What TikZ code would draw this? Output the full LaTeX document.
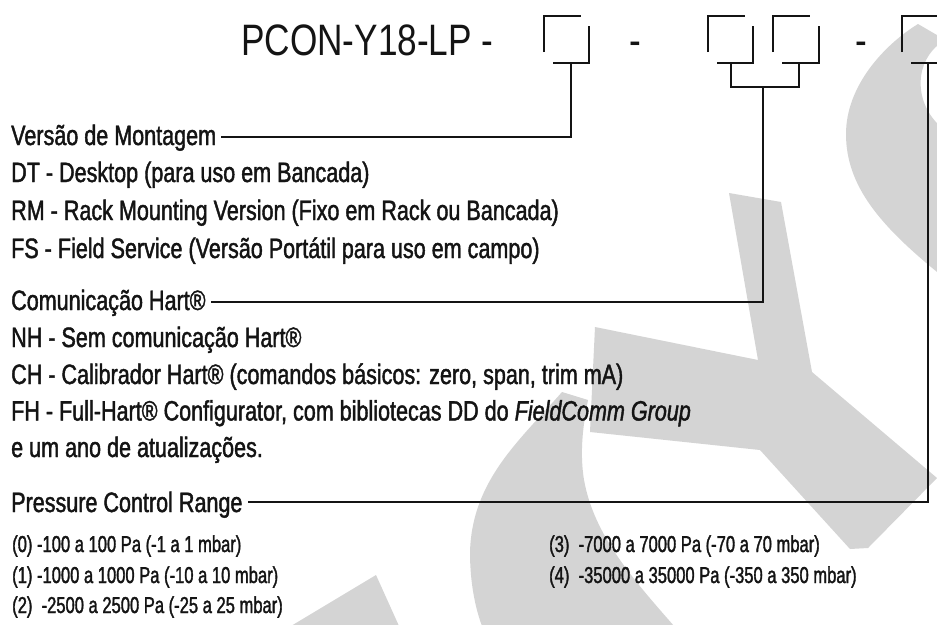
\documentclass[tikz,border=0pt]{standalone}
\usepackage{fontspec}
\setmainfont{Liberation Sans}
\newfontfamily\titlefont{Liberation Sans}[FakeStretch=0.8]
\newfontfamily\bodyfont{Liberation Sans}[FakeStretch=0.77,FakeBold=1.5]
\newfontfamily\rangefont{Liberation Sans}[FakeStretch=0.72,FakeBold=1.5]
\usetikzlibrary{calc}
\definecolor{wm}{RGB}{212,212,212}
\definecolor{ink}{RGB}{20,20,20}
\begin{document}
\begin{tikzpicture}[x=1pt,y=-1pt,
  body/.style={anchor=base west, inner sep=0pt, font=\bodyfont\fontsize{28}{32}\selectfont, text=ink},
  rangetxt/.style={anchor=base west, inner sep=0pt, font=\rangefont\fontsize{23}{27}\selectfont, text=ink},
  ttl/.style={anchor=base west, inner sep=0pt, font=\titlefont\fontsize{44}{50}\selectfont, text=ink},
  brk/.style={draw=ink, line width=2.8pt},
  conn/.style={draw=ink, line width=2.6pt},
  wmark/.style={fill=wm}]
\useasboundingbox (0,0) rectangle (937,624);
\clip (0,0) rectangle (937,624);
\fill[white] (0,0) rectangle (937,624);
% watermark shapes
\fill[wmark] (918,24) -- (942,38) -- (942,42) .. controls (915,60) and (912,102) .. (942,128)
  -- (942,276) .. controls (880,226) and (846,186) .. (846,134) .. controls (846,86) and (884,45) .. (918,24) -- cycle;
\fill[wmark] (729,193) -- (781,202) -- (812,372) -- (937,478) -- (868,548) -- (850,549)
  -- (760,450) -- (590,432) -- (595,327) -- (758,360) -- cycle;
\fill[wmark] (562,392) .. controls (520,440) and (472,480) .. (470,552) .. controls (470,585) and (476,610) .. (482,626)
  -- (674,626) .. controls (632,578) and (594,535) .. (584,480) .. controls (580,455) and (582,430) .. (588,400) -- cycle;
\fill[wmark] (376,575) -- (399,626) -- (291,626) -- cycle;
% title and dashes
\node[ttl] (title) at (241,55) {PCON-Y18-LP -};
\node[ttl] (d2) at (629,55) {-};
\node[ttl] (d3) at (855,55) {-};
% boxes
\draw[brk] (544,52) -- (544,16) -- (581,16);
\draw[brk] (553,63) -- (589,63) -- (589,26);
\draw[brk] (708,52) -- (708,16) -- (745,16);
\draw[brk] (717,63) -- (753,63) -- (753,26);
\draw[brk] (773,52) -- (773,16) -- (810,16);
\draw[brk] (782,63) -- (819,63) -- (819,26);
\draw[brk] (902,52) -- (902,16) -- (940,16);
\draw[brk] (911,63) -- (947,63) -- (947,26);
% texts
\node[body] (versao) at (11,145) {Versão de Montagem};
\node[body] (dt) at (11,182) {DT - Desktop (para uso em Bancada)};
\node[body] (rm) at (11,220) {RM - Rack Mounting Version (Fixo em Rack ou Bancada)};
\node[body] (fs) at (11,258) {FS - Field Service (Versão Portátil para uso em campo)};
\node[body] (comun) at (11,310) {Comunicação Hart®};
\node[body] (nh) at (11,347) {NH - Sem comunicação Hart®};
\node[body] (ch) at (11,384) {CH - Calibrador Hart® (comandos básicos: zero, span, trim mA)};
\node[body] (fh) at (11,420.5) {FH - Full-Hart® Configurator, com bibliotecas DD do \textit{FieldComm Group}};
\node[body] (eum) at (11,457) {e um ano de atualizações.};
\node[body] (press) at (11,512) {Pressure Control Range};
\node[rangetxt] (r0) at (12,552) {(0) -100 a 100 Pa (-1 a 1 mbar)};
\node[rangetxt] (r1) at (12,583) {(1) -1000 a 1000 Pa (-10 a 10 mbar)};
\node[rangetxt] (r2) at (12,613) {(2)\ \ -2500 a 2500 Pa (-25 a 25 mbar)};
\node[rangetxt] (r3) at (549,552) {(3)\ \ -7000 a 7000 Pa (-70 a 70 mbar)};
\node[rangetxt] (r4) at (549,583) {(4)\ \ -35000 a 35000 Pa (-350 a 350 mbar)};
% connectors
\coordinate (s1) at (571,63);
\coordinate (k1) at (571,137);
\draw[conn] (s1) -- (k1) -- ($(versao.east |- k1)+(5,0)$);
\coordinate (s2) at (731,63);
\coordinate (s3) at (799,63);
\coordinate (j2) at (731,87);
\coordinate (j3) at (799,87);
\coordinate (m23) at (763,87);
\coordinate (k2) at (763,302);
\draw[conn] (s2) -- (j2) -- (j3) -- (s3);
\draw[conn] (m23) -- (k2) -- ($(comun.east |- k2)+(5,0)$);
\coordinate (s4) at (928,63);
\coordinate (k4) at (928,502);
\draw[conn] (s4) -- (k4) -- ($(press.east |- k4)+(5,0)$);
\end{tikzpicture}
\end{document}
